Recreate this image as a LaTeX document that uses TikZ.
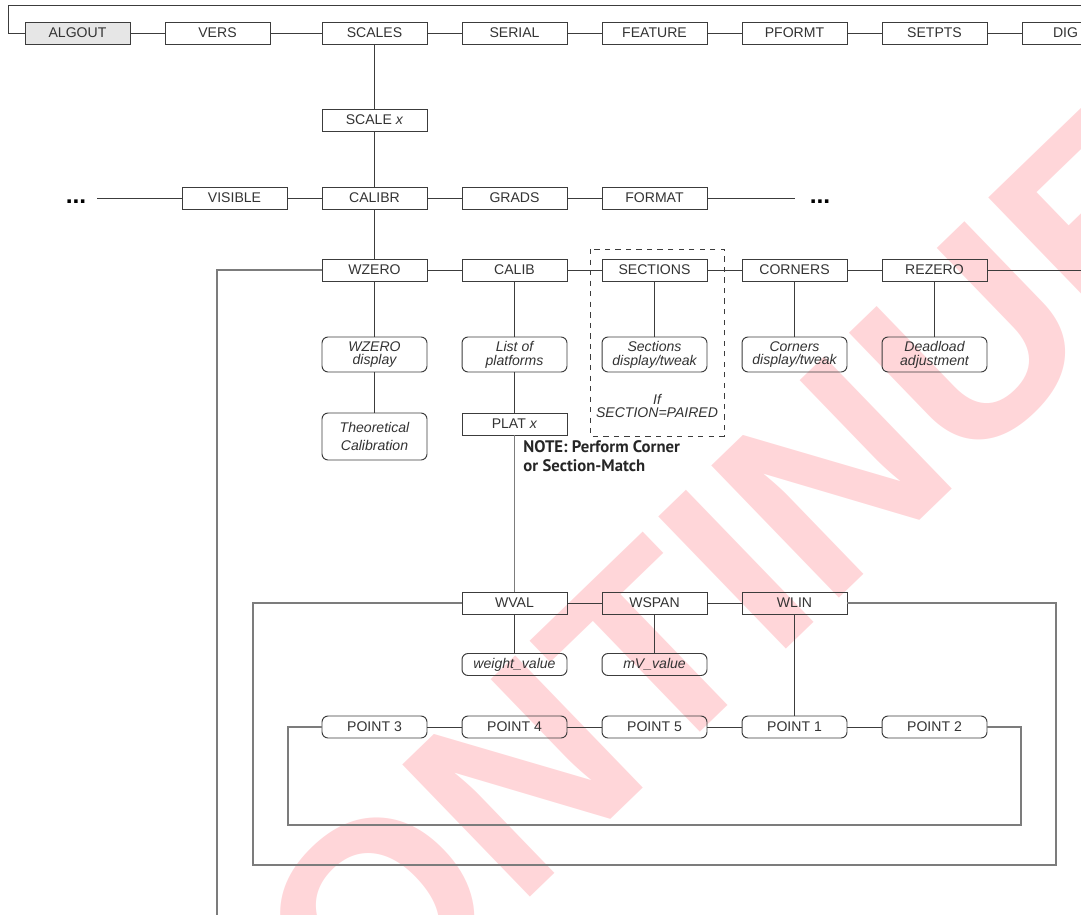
\documentclass[tikz,border=0pt]{standalone}
\usepackage{fontspec}
\setmainfont{Liberation Sans}
\newfontfamily\notefont{PT Sans}
\usetikzlibrary{positioning}
\definecolor{menuline}{HTML}{3C3C3C}
\definecolor{loopline}{HTML}{7C7C7C}
\definecolor{menutext}{HTML}{333333}
\definecolor{markpink}{HTML}{FFD6D9}
\definecolor{algfill}{HTML}{E6E6E6}

\tikzset{
  menubox/.style={draw=menuline, minimum width=2.1cm, minimum height=0.44cm, inner sep=0pt,
    font=\fontsize{8}{9}\selectfont, text=menutext},
  pointbox/.style={menubox, rounded corners=0.12cm},
  infobox/.style={menubox, rounded corners=0.12cm, align=center,
    font=\fontsize{8}{7.9}\selectfont\itshape},
  link/.style={draw=menuline, line width=0.55pt},
  loop/.style={draw=loopline, line width=0.6pt},
  dotsmark/.style={font=\fontsize{14}{14}\selectfont\bfseries, text=black, inner sep=0pt},
}

\begin{document}
\begin{tikzpicture}[x=0.02cm, y=-0.02cm, line width=0.55pt]
  \useasboundingbox (0,0) rectangle (1081,915);
  \begin{scope}
    \clip (0,0) rectangle (1081,915);
    \node[rotate=44, text=markpink, font=\fontsize{152}{152}\selectfont\bfseries] (wmark) at (736,570) {CONTINUED};
  \end{scope}

  % main menu row
  \node[menubox, fill=algfill] (algout) at (77.5,33) {ALGOUT};
  \node[menubox] (vers) at (217.5,33) {VERS};
  \node[menubox] (scales) at (374.5,33) {SCALES};
  \node[menubox] (serial) at (514.5,33) {SERIAL};
  \node[menubox] (feature) at (654.5,33) {FEATURE};
  \node[menubox] (pformt) at (794.5,33) {PFORMT};
  \node[menubox] (setpts) at (934.5,33) {SETPTS};
  \node[menubox] (digin) at (1074.5,33) {DIG IN};
  \coordinate (topleft) at (8,5);
  \coordinate (topright) at (1081,5);
  \draw[link] (algout.west) -| (topleft) -- (topright);
  \foreach \a/\b in {algout/vers, vers/scales, scales/serial, serial/feature, feature/pformt, pformt/setpts, setpts/digin}
    \draw[link] (\a) -- (\b);

  % scale level
  \node[menubox] (scalex) at (374.5,120) {SCALE \textit{x}};
  \node[menubox] (visible) at (234.5,198) {VISIBLE};
  \node[menubox] (calibr) at (374.5,198) {CALIBR};
  \node[menubox] (grads) at (514.5,198) {GRADS};
  \node[menubox] (format) at (654.5,198) {FORMAT};
  \node[dotsmark] (ldots) at (76,202) {...};
  \node[dotsmark] (rdots) at (820,202) {...};
  \coordinate (lrowend) at (97,198);
  \coordinate (rrowend) at (795,198);
  \draw[link] (scales) -- (scalex) -- (calibr);
  \draw[link] (lrowend) -- (visible) -- (calibr) -- (grads) -- (format) -- (rrowend);

  % calibration level
  \node[menubox] (wzero) at (374.5,270) {WZERO};
  \node[menubox] (calib) at (514.5,270) {CALIB};
  \node[menubox] (sections) at (654.5,270) {SECTIONS};
  \node[menubox] (corners) at (794.5,270) {CORNERS};
  \node[menubox] (rezero) at (934.5,270) {REZERO};
  \coordinate (rowedge) at (1081,270);
  \coordinate (wzdown) at (217,915);
  \draw[link] (calibr) -- (wzero) -- (calib) -- (sections) -- (corners) -- (rezero) -- (rowedge);
  \draw[loop] (wzero.west) -| (wzdown);

  \node[infobox, minimum height=0.7cm] (wzdisp) at (374.5,354.5) {WZERO\\display};
  \node[infobox, minimum height=0.94cm, font=\fontsize{8}{10.6}\selectfont\itshape] (theocal) at (374.5,436.5) {Theoretical\\Calibration};
  \node[infobox, minimum height=0.7cm] (platlist) at (514.5,354.5) {List of\\platforms};
  \node[menubox] (platx) at (514.5,424) {PLAT \textit{x}};
  \node[infobox, minimum height=0.7cm] (secdisp) at (654.5,354.5) {Sections\\display/tweak};
  \node[infobox, minimum height=0.7cm] (cordisp) at (794.5,354.5) {Corners\\display/tweak};
  \node[infobox, minimum height=0.7cm] (deadload) at (934.5,354.5) {Deadload\\adjustment};
  \node[align=center, inner sep=0pt, text=menutext, font=\fontsize{8}{7}\selectfont\itshape] (ifnote) at (657,406) {If\\SECTION=PAIRED};
  \draw[menuline, dashed, line width=0.5pt] (590,249) rectangle (724,436);
  \node[anchor=west, align=left, inner sep=0pt, text=black!85, font=\notefont\fontsize{9.5}{10.8}\selectfont\bfseries] (note) at (523,456) {NOTE: Perform Corner\\or Section-Match};
  \draw[link] (wzero) -- (wzdisp) -- (theocal);
  \draw[link] (calib) -- (platlist) -- (platx);
  \draw[link] (sections) -- (secdisp);
  \draw[link] (corners) -- (cordisp);
  \draw[link] (rezero) -- (deadload);

  % weight / span / linearity
  \node[menubox] (wval) at (514.5,603) {WVAL};
  \node[menubox] (wspan) at (654.5,603) {WSPAN};
  \node[menubox] (wlin) at (794.5,603) {WLIN};
  \node[infobox] (wtval) at (514.5,664.5) {weight\_value};
  \node[infobox] (mvval) at (654.5,664.5) {mV\_value};
  \draw[loop] (platx) -- (wval);
  \draw[link] (wval) -- (wspan) -- (wlin);
  \draw[link] (wval) -- (wtval);
  \draw[link] (wspan) -- (mvval);
  \coordinate (outerbl) at (253,865);
  \coordinate (outerbr) at (1056,865);
  \draw[loop] (wval.west) -| (outerbl) -- (outerbr) |- (wlin.east);

  \node[pointbox] (point3) at (374.5,727) {POINT 3};
  \node[pointbox] (point4) at (514.5,727) {POINT 4};
  \node[pointbox] (point5) at (654.5,727) {POINT 5};
  \node[pointbox] (point1) at (794.5,727) {POINT 1};
  \node[pointbox] (point2) at (934.5,727) {POINT 2};
  \draw[link] (wlin) -- (point1);
  \draw[link] (point3) -- (point4) -- (point5) -- (point1) -- (point2);
  \coordinate (innerbl) at (288,825);
  \coordinate (innerbr) at (1021,825);
  \draw[loop] (point3.west) -| (innerbl) -- (innerbr) |- (point2.east);
\end{tikzpicture}
\end{document}
